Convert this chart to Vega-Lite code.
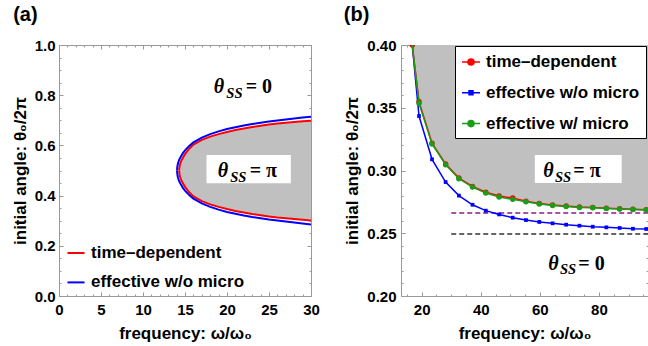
{
  "$schema": "https://vega.github.io/schema/vega-lite/v6.json",
  "background": "white",
  "padding": {"left": 10, "top": 4, "right": 0, "bottom": 0},
  "bounds": "flush",
  "spacing": 90,
  "resolve": {"scale": {"color": "independent"}, "legend": {"color": "independent"}},
  "config": {
    "view": {"stroke": "#999999", "strokeWidth": 1},
    "axis": {"labelFont": "Liberation Sans", "labelFontSize": 15, "labelFontWeight": "bold", "labelColor": "black", "titleFont": "Liberation Sans", "titleFontSize": 17, "titleFontWeight": "bold", "titleColor": "black", "grid": false, "domain": false, "tickColor": "#999999", "labelFlush": false, "labelOverlap": false},
    "legend": {"labelFont": "Liberation Sans", "labelFontSize": 17, "labelFontWeight": "bold", "labelColor": "black", "labelLimit": 400},
    "title": {"font": "Liberation Sans", "fontSize": 20, "fontWeight": "bold", "color": "black"}
  },
  "datasets": {
    "acurve": [
      {"x": 14.3, "yu": 0.5, "yl": 0.5, "s": "time–dependent"},
      {"x": 14.32, "yu": 0.509, "yl": 0.491, "s": "time–dependent"},
      {"x": 14.36, "yu": 0.518, "yl": 0.482, "s": "time–dependent"},
      {"x": 14.42, "yu": 0.526, "yl": 0.474, "s": "time–dependent"},
      {"x": 14.5, "yu": 0.534, "yl": 0.466, "s": "time–dependent"},
      {"x": 14.62, "yu": 0.543, "yl": 0.457, "s": "time–dependent"},
      {"x": 14.75, "yu": 0.551, "yl": 0.449, "s": "time–dependent"},
      {"x": 15.0, "yu": 0.565, "yl": 0.435, "s": "time–dependent"},
      {"x": 15.5, "yu": 0.587, "yl": 0.413, "s": "time–dependent"},
      {"x": 16, "yu": 0.603, "yl": 0.397, "s": "time–dependent"},
      {"x": 17, "yu": 0.622, "yl": 0.378, "s": "time–dependent"},
      {"x": 18, "yu": 0.635, "yl": 0.365, "s": "time–dependent"},
      {"x": 19, "yu": 0.645, "yl": 0.355, "s": "time–dependent"},
      {"x": 20, "yu": 0.653, "yl": 0.347, "s": "time–dependent"},
      {"x": 21, "yu": 0.661, "yl": 0.339, "s": "time–dependent"},
      {"x": 22, "yu": 0.667, "yl": 0.333, "s": "time–dependent"},
      {"x": 23, "yu": 0.673, "yl": 0.327, "s": "time–dependent"},
      {"x": 24, "yu": 0.678, "yl": 0.322, "s": "time–dependent"},
      {"x": 25, "yu": 0.683, "yl": 0.317, "s": "time–dependent"},
      {"x": 26, "yu": 0.687, "yl": 0.313, "s": "time–dependent"},
      {"x": 27, "yu": 0.690, "yl": 0.310, "s": "time–dependent"},
      {"x": 28, "yu": 0.693, "yl": 0.307, "s": "time–dependent"},
      {"x": 29, "yu": 0.696, "yl": 0.304, "s": "time–dependent"},
      {"x": 30, "yu": 0.698, "yl": 0.301, "s": "time–dependent"},
      {"x": 14.05, "yu": 0.5, "yl": 0.5, "s": "effective w/o micro"},
      {"x": 14.07, "yu": 0.51, "yl": 0.49, "s": "effective w/o micro"},
      {"x": 14.11, "yu": 0.52, "yl": 0.48, "s": "effective w/o micro"},
      {"x": 14.17, "yu": 0.529, "yl": 0.471, "s": "effective w/o micro"},
      {"x": 14.25, "yu": 0.537, "yl": 0.463, "s": "effective w/o micro"},
      {"x": 14.37, "yu": 0.547, "yl": 0.453, "s": "effective w/o micro"},
      {"x": 14.5, "yu": 0.555, "yl": 0.445, "s": "effective w/o micro"},
      {"x": 14.75, "yu": 0.569, "yl": 0.431, "s": "effective w/o micro"},
      {"x": 15.0, "yu": 0.58, "yl": 0.42, "s": "effective w/o micro"},
      {"x": 15.5, "yu": 0.598, "yl": 0.402, "s": "effective w/o micro"},
      {"x": 16, "yu": 0.612, "yl": 0.388, "s": "effective w/o micro"},
      {"x": 17, "yu": 0.631, "yl": 0.369, "s": "effective w/o micro"},
      {"x": 18, "yu": 0.645, "yl": 0.355, "s": "effective w/o micro"},
      {"x": 19, "yu": 0.656, "yl": 0.344, "s": "effective w/o micro"},
      {"x": 20, "yu": 0.665, "yl": 0.335, "s": "effective w/o micro"},
      {"x": 21, "yu": 0.672, "yl": 0.328, "s": "effective w/o micro"},
      {"x": 22, "yu": 0.679, "yl": 0.321, "s": "effective w/o micro"},
      {"x": 23, "yu": 0.685, "yl": 0.315, "s": "effective w/o micro"},
      {"x": 24, "yu": 0.690, "yl": 0.310, "s": "effective w/o micro"},
      {"x": 25, "yu": 0.695, "yl": 0.305, "s": "effective w/o micro"},
      {"x": 26, "yu": 0.699, "yl": 0.301, "s": "effective w/o micro"},
      {"x": 27, "yu": 0.703, "yl": 0.297, "s": "effective w/o micro"},
      {"x": 28, "yu": 0.707, "yl": 0.293, "s": "effective w/o micro"},
      {"x": 29, "yu": 0.711, "yl": 0.289, "s": "effective w/o micro"},
      {"x": 30, "yu": 0.714, "yl": 0.285, "s": "effective w/o micro"}
    ],
    "aarea": [
      {"x": 14.3, "lo": 0.5, "hi": 0.5},
      {"x": 14.32, "lo": 0.491, "hi": 0.509},
      {"x": 14.36, "lo": 0.482, "hi": 0.518},
      {"x": 14.42, "lo": 0.474, "hi": 0.526},
      {"x": 14.5, "lo": 0.466, "hi": 0.534},
      {"x": 14.62, "lo": 0.457, "hi": 0.543},
      {"x": 14.75, "lo": 0.449, "hi": 0.551},
      {"x": 15.0, "lo": 0.435, "hi": 0.565},
      {"x": 15.5, "lo": 0.413, "hi": 0.587},
      {"x": 16, "lo": 0.397, "hi": 0.603},
      {"x": 17, "lo": 0.378, "hi": 0.622},
      {"x": 18, "lo": 0.365, "hi": 0.635},
      {"x": 19, "lo": 0.355, "hi": 0.645},
      {"x": 20, "lo": 0.347, "hi": 0.653},
      {"x": 21, "lo": 0.339, "hi": 0.661},
      {"x": 22, "lo": 0.333, "hi": 0.667},
      {"x": 23, "lo": 0.327, "hi": 0.673},
      {"x": 24, "lo": 0.322, "hi": 0.678},
      {"x": 25, "lo": 0.317, "hi": 0.683},
      {"x": 26, "lo": 0.313, "hi": 0.687},
      {"x": 27, "lo": 0.310, "hi": 0.690},
      {"x": 28, "lo": 0.307, "hi": 0.693},
      {"x": 29, "lo": 0.304, "hi": 0.696},
      {"x": 30, "lo": 0.301, "hi": 0.698}
    ],
    "abox": [{"x1": 17.56, "x2": 27.6, "y1": 0.449, "y2": 0.5618}],
    "alab": [
      {"x": 18.42, "y": 0.8076, "r": "= 0"},
      {"x": 18.89, "y": 0.473, "r": "= π"}
    ],
    "bpts": [
      {"x": 16.8, "y": 0.400, "s": "effective w/o micro"},
      {"x": 19.1, "y": 0.3434, "s": "effective w/o micro"},
      {"x": 23.5, "y": 0.3089, "s": "effective w/o micro"},
      {"x": 28.1, "y": 0.2908, "s": "effective w/o micro"},
      {"x": 32.6, "y": 0.2800, "s": "effective w/o micro"},
      {"x": 37.2, "y": 0.2727, "s": "effective w/o micro"},
      {"x": 41.7, "y": 0.2680, "s": "effective w/o micro"},
      {"x": 46.2, "y": 0.2650, "s": "effective w/o micro"},
      {"x": 50.8, "y": 0.2624, "s": "effective w/o micro"},
      {"x": 55.3, "y": 0.2605, "s": "effective w/o micro"},
      {"x": 59.8, "y": 0.2590, "s": "effective w/o micro"},
      {"x": 64.3, "y": 0.2579, "s": "effective w/o micro"},
      {"x": 68.9, "y": 0.2568, "s": "effective w/o micro"},
      {"x": 73.4, "y": 0.2560, "s": "effective w/o micro"},
      {"x": 77.9, "y": 0.2552, "s": "effective w/o micro"},
      {"x": 82.5, "y": 0.2547, "s": "effective w/o micro"},
      {"x": 87.0, "y": 0.2542, "s": "effective w/o micro"},
      {"x": 91.5, "y": 0.2536, "s": "effective w/o micro"},
      {"x": 96.0, "y": 0.2534, "s": "effective w/o micro"},
      {"x": 16.8, "y": 0.400, "s": "time–dependent"},
      {"x": 19.1, "y": 0.3548, "s": "time–dependent"},
      {"x": 23.5, "y": 0.3218, "s": "time–dependent"},
      {"x": 28.1, "y": 0.3052, "s": "time–dependent"},
      {"x": 32.6, "y": 0.2940, "s": "time–dependent"},
      {"x": 37.2, "y": 0.2873, "s": "time–dependent"},
      {"x": 41.7, "y": 0.2827, "s": "time–dependent"},
      {"x": 46.2, "y": 0.2797, "s": "time–dependent"},
      {"x": 50.8, "y": 0.2780, "s": "time–dependent"},
      {"x": 55.3, "y": 0.2756, "s": "time–dependent"},
      {"x": 59.8, "y": 0.2737, "s": "time–dependent"},
      {"x": 64.3, "y": 0.2725, "s": "time–dependent"},
      {"x": 68.9, "y": 0.2717, "s": "time–dependent"},
      {"x": 73.4, "y": 0.2709, "s": "time–dependent"},
      {"x": 77.9, "y": 0.2705, "s": "time–dependent"},
      {"x": 82.5, "y": 0.2700, "s": "time–dependent"},
      {"x": 87.0, "y": 0.2695, "s": "time–dependent"},
      {"x": 91.5, "y": 0.2692, "s": "time–dependent"},
      {"x": 96.0, "y": 0.2687, "s": "time–dependent"},
      {"x": 16.8, "y": 0.400, "s": "effective w/ micro"},
      {"x": 19.1, "y": 0.3535, "s": "effective w/ micro"},
      {"x": 23.5, "y": 0.3211, "s": "effective w/ micro"},
      {"x": 28.1, "y": 0.3046, "s": "effective w/ micro"},
      {"x": 32.6, "y": 0.2934, "s": "effective w/ micro"},
      {"x": 37.2, "y": 0.2868, "s": "effective w/ micro"},
      {"x": 41.7, "y": 0.2820, "s": "effective w/ micro"},
      {"x": 46.2, "y": 0.2789, "s": "effective w/ micro"},
      {"x": 50.8, "y": 0.2770, "s": "effective w/ micro"},
      {"x": 55.3, "y": 0.2751, "s": "effective w/ micro"},
      {"x": 59.8, "y": 0.2733, "s": "effective w/ micro"},
      {"x": 64.3, "y": 0.2722, "s": "effective w/ micro"},
      {"x": 68.9, "y": 0.2714, "s": "effective w/ micro"},
      {"x": 73.4, "y": 0.2706, "s": "effective w/ micro"},
      {"x": 77.9, "y": 0.2703, "s": "effective w/ micro"},
      {"x": 82.5, "y": 0.2698, "s": "effective w/ micro"},
      {"x": 87.0, "y": 0.2693, "s": "effective w/ micro"},
      {"x": 91.5, "y": 0.2690, "s": "effective w/ micro"},
      {"x": 96.0, "y": 0.2685, "s": "effective w/ micro"}
    ],
    "barea": [
      {"x": 16.8, "lo": 0.400},
      {"x": 19.1, "lo": 0.3548},
      {"x": 23.5, "lo": 0.3218},
      {"x": 28.1, "lo": 0.3052},
      {"x": 32.6, "lo": 0.2940},
      {"x": 37.2, "lo": 0.2873},
      {"x": 41.7, "lo": 0.2827},
      {"x": 46.2, "lo": 0.2797},
      {"x": 50.8, "lo": 0.2780},
      {"x": 55.3, "lo": 0.2756},
      {"x": 59.8, "lo": 0.2737},
      {"x": 64.3, "lo": 0.2725},
      {"x": 68.9, "lo": 0.2717},
      {"x": 73.4, "lo": 0.2709},
      {"x": 77.9, "lo": 0.2705},
      {"x": 82.5, "lo": 0.2700},
      {"x": 87.0, "lo": 0.2695},
      {"x": 91.5, "lo": 0.2692},
      {"x": 96.0, "lo": 0.2687},
      {"x": 96.6, "lo": 0.2686}
    ],
    "bdash": [
      {"x": 30, "y": 0.2661, "s": "p"},
      {"x": 96.6, "y": 0.2661, "s": "p"},
      {"x": 30, "y": 0.2494, "s": "k"},
      {"x": 96.6, "y": 0.2494, "s": "k"}
    ],
    "bbox": [{"x1": 58.3, "x2": 87.7, "y1": 0.290, "y2": 0.3123}],
    "blab": [
      {"x": 62.85, "y": 0.2209, "r": "= 0"},
      {"x": 61.15, "y": 0.2946, "r": "= π"}
    ]
  },
  "hconcat": [
    {
      "width": 252,
      "height": 251,
      "title": {"text": "(a)", "anchor": "start", "frame": "bounds", "offset": 13, "dx": 2},
      "resolve": {"axis": {"x": "independent", "y": "independent"}},
      "layer": [
        {
          "data": {"name": "aarea"},
          "mark": {"type": "area", "color": "#c0c0c0"},
          "encoding": {
            "x": {"field": "x", "type": "quantitative", "scale": {"domain": [0, 30], "nice": false, "zero": false},
                  "axis": {"orient": "bottom", "values": [0, 5, 10, 15, 20, 25, 30], "ticks": false, "labelPadding": 6, "titlePadding": 8, "title": "frequency: ω/ω₀"}},
            "y": {"field": "lo", "type": "quantitative", "scale": {"domain": [0, 1], "nice": false, "zero": false},
                  "axis": {"orient": "left", "values": [0, 0.2, 0.4, 0.6, 0.8, 1], "format": ".1f", "ticks": false, "labelPadding": 4, "titlePadding": 5, "title": "initial angle: θ₀/2π"}},
            "y2": {"field": "hi"}
          }
        },
        {
          "data": {"name": "abox"},
          "mark": {"type": "rect", "color": "white"},
          "encoding": {
            "x": {"field": "x1", "type": "quantitative", "axis": null}, "x2": {"field": "x2"},
            "y": {"field": "y1", "type": "quantitative", "axis": null}, "y2": {"field": "y2"}
          }
        },
        {
          "data": {"name": "acurve"},
          "mark": {"type": "line", "strokeWidth": 2, "clip": true},
          "encoding": {
            "x": {"field": "x", "type": "quantitative", "axis": null},
            "y": {"field": "yu", "type": "quantitative", "axis": null},
            "color": {"field": "s", "type": "nominal",
                      "scale": {"domain": ["time–dependent", "effective w/o micro"], "range": ["#ff0000", "#0000ff"]},
                      "legend": {"orient": "none", "legendX": 7, "legendY": 198, "title": null, "symbolType": "stroke", "symbolSize": 290, "symbolStrokeWidth": 2, "rowPadding": 11.4, "labelOffset": 5, "padding": 0}}
          }
        },
        {
          "data": {"name": "acurve"},
          "mark": {"type": "line", "strokeWidth": 2, "clip": true},
          "encoding": {
            "x": {"field": "x", "type": "quantitative", "axis": null},
            "y": {"field": "yl", "type": "quantitative", "axis": null},
            "color": {"field": "s", "type": "nominal"}
          }
        },
        {
          "data": {"name": "alab"},
          "mark": {"type": "text", "text": "θ", "align": "left", "baseline": "alphabetic", "font": "Liberation Serif", "fontSize": 20, "fontWeight": "bold", "fontStyle": "italic"},
          "encoding": {"x": {"field": "x", "type": "quantitative", "axis": null}, "y": {"field": "y", "type": "quantitative", "axis": null}}
        },
        {
          "data": {"name": "alab"},
          "mark": {"type": "text", "text": "SS", "align": "left", "baseline": "alphabetic", "dx": 12.6, "dy": 4.5, "font": "Liberation Serif", "fontSize": 14.5, "fontWeight": "bold", "fontStyle": "italic"},
          "encoding": {"x": {"field": "x", "type": "quantitative", "axis": null}, "y": {"field": "y", "type": "quantitative", "axis": null}}
        },
        {
          "data": {"name": "alab"},
          "mark": {"type": "text", "align": "left", "baseline": "alphabetic", "dx": 32, "font": "Liberation Serif", "fontSize": 20, "fontWeight": "bold"},
          "encoding": {"x": {"field": "x", "type": "quantitative", "axis": null}, "y": {"field": "y", "type": "quantitative", "axis": null}, "text": {"field": "r"}}
        },
        {
          "data": {"name": "aarea"},
          "mark": {"type": "point", "opacity": 0},
          "encoding": {
            "x": {"field": "x", "type": "quantitative", "axis": {"orient": "bottom", "values": [0, 5, 10, 15, 20, 25, 30], "labels": false, "tickSize": -4, "title": null}},
            "y": {"field": "lo", "type": "quantitative", "axis": {"orient": "left", "values": [0, 0.2, 0.4, 0.6, 0.8, 1], "labels": false, "tickSize": -4, "title": null}}
          }
        },
        {
          "data": {"name": "aarea"},
          "mark": {"type": "point", "opacity": 0},
          "encoding": {
            "x": {"field": "x", "type": "quantitative", "axis": {"orient": "bottom", "values": [1, 2, 3, 4, 6, 7, 8, 9, 11, 12, 13, 14, 16, 17, 18, 19, 21, 22, 23, 24, 26, 27, 28, 29], "labels": false, "tickSize": -2, "title": null}},
            "y": {"field": "lo", "type": "quantitative", "axis": {"orient": "left", "values": [0.05, 0.1, 0.15, 0.25, 0.3, 0.35, 0.45, 0.5, 0.55, 0.65, 0.7, 0.75, 0.85, 0.9, 0.95], "labels": false, "tickSize": -2, "title": null}}
          }
        },
        {
          "data": {"name": "aarea"},
          "mark": {"type": "point", "opacity": 0},
          "encoding": {
            "x": {"field": "x", "type": "quantitative", "axis": {"orient": "top", "values": [0, 5, 10, 15, 20, 25, 30], "labels": false, "tickSize": -4, "title": null}},
            "y": {"field": "lo", "type": "quantitative", "axis": {"orient": "right", "values": [0, 0.2, 0.4, 0.6, 0.8, 1], "labels": false, "tickSize": -4, "title": null}}
          }
        },
        {
          "data": {"name": "aarea"},
          "mark": {"type": "point", "opacity": 0},
          "encoding": {
            "x": {"field": "x", "type": "quantitative", "axis": {"orient": "top", "values": [1, 2, 3, 4, 6, 7, 8, 9, 11, 12, 13, 14, 16, 17, 18, 19, 21, 22, 23, 24, 26, 27, 28, 29], "labels": false, "tickSize": -2, "title": null}},
            "y": {"field": "lo", "type": "quantitative", "axis": {"orient": "right", "values": [0.05, 0.1, 0.15, 0.25, 0.3, 0.35, 0.45, 0.5, 0.55, 0.65, 0.7, 0.75, 0.85, 0.9, 0.95], "labels": false, "tickSize": -2, "title": null}}
          }
        }
      ]
    },
    {
      "width": 247,
      "height": 251,
      "title": {"text": "(b)", "anchor": "start", "frame": "bounds", "offset": 13, "dx": 0},
      "resolve": {"axis": {"x": "independent", "y": "independent"}},
      "layer": [
        {
          "data": {"name": "barea"},
          "mark": {"type": "area", "color": "#c0c0c0", "clip": true},
          "encoding": {
            "x": {"field": "x", "type": "quantitative", "scale": {"domain": [13, 96.6], "nice": false, "zero": false},
                  "axis": {"orient": "bottom", "values": [20, 40, 60, 80], "ticks": false, "labelPadding": 6, "titlePadding": 8, "title": "frequency: ω/ω₀"}},
            "y": {"field": "lo", "type": "quantitative", "scale": {"domain": [0.2, 0.4], "nice": false, "zero": false},
                  "axis": {"orient": "left", "values": [0.2, 0.25, 0.3, 0.35, 0.4], "format": ".2f", "ticks": false, "labelPadding": 5, "titlePadding": 5, "title": "initial angle: θ₀/2π"}},
            "y2": {"datum": 0.4}
          }
        },
        {
          "data": {"name": "bbox"},
          "mark": {"type": "rect", "color": "white"},
          "encoding": {
            "x": {"field": "x1", "type": "quantitative", "axis": null}, "x2": {"field": "x2"},
            "y": {"field": "y1", "type": "quantitative", "axis": null}, "y2": {"field": "y2"}
          }
        },
        {
          "data": {"name": "bdash"},
          "transform": [{"filter": "datum.s == 'p'"}],
          "mark": {"type": "line", "color": "#8b1a8b", "strokeWidth": 1.5, "strokeDash": [5, 3], "clip": true},
          "encoding": {"x": {"field": "x", "type": "quantitative", "axis": null}, "y": {"field": "y", "type": "quantitative", "axis": null}}
        },
        {
          "data": {"name": "bdash"},
          "transform": [{"filter": "datum.s == 'k'"}],
          "mark": {"type": "line", "color": "#333333", "strokeWidth": 1.5, "strokeDash": [5, 3], "clip": true},
          "encoding": {"x": {"field": "x", "type": "quantitative", "axis": null}, "y": {"field": "y", "type": "quantitative", "axis": null}}
        },
        {
          "data": {"name": "bpts"},
          "transform": [{"filter": "datum.s == 'effective w/o micro'"}],
          "mark": {"type": "line", "strokeWidth": 1.5, "clip": true},
          "encoding": {
            "x": {"field": "x", "type": "quantitative", "axis": null},
            "y": {"field": "y", "type": "quantitative", "axis": null},
            "color": {"field": "s", "type": "nominal",
                      "scale": {"domain": ["time–dependent", "effective w/o micro", "effective w/ micro"], "range": ["#ff0000", "#0000ff", "#1a9e1a"]},
                      "legend": {"orient": "none", "legendX": 54, "legendY": 1, "title": null, "padding": 6, "strokeColor": "black", "fillColor": "white",
                                 "symbolType": "M-1,0L1,0M-0.34,0A0.34,0.34,0,1,0,0.34,0A0.34,0.34,0,1,0,-0.34,0Z", "symbolSize": 324, "symbolStrokeWidth": 1.5,
                                 "rowPadding": 12.8, "labelOffset": 5,
                                 "encode": {"symbols": {"update": {
                                   "stroke": {"signal": "datum.value === 'effective w/o micro' ? '#0000ff' : (datum.value === 'effective w/ micro' ? '#1a9e1a' : '#ff0000')"},
                                   "fill": {"signal": "datum.value === 'effective w/o micro' ? '#0000ff' : (datum.value === 'effective w/ micro' ? '#1a9e1a' : '#ff0000')"},
                                   "fillOpacity": {"value": 1},
                                   "strokeWidth": {"value": 1.5},
                                   "shape": {"signal": "datum.value === 'effective w/o micro' ? 'M-1,0L1,0M-0.22,-0.22L0.22,-0.22L0.22,0.22L-0.22,0.22Z' : 'M-1,0L1,0M-0.34,0A0.34,0.34,0,1,0,0.34,0A0.34,0.34,0,1,0,-0.34,0Z'"}
                                 }}}}}
          }
        },
        {
          "data": {"name": "bpts"},
          "transform": [{"filter": "datum.s == 'effective w/o micro'"}],
          "mark": {"type": "point", "shape": "square", "filled": true, "opacity": 1, "size": 14, "color": "#0000ff", "clip": true},
          "encoding": {"x": {"field": "x", "type": "quantitative", "axis": null}, "y": {"field": "y", "type": "quantitative", "axis": null}}
        },
        {
          "data": {"name": "bpts"},
          "transform": [{"filter": "datum.s == 'time–dependent'"}],
          "mark": {"type": "line", "strokeWidth": 1.5, "clip": true},
          "encoding": {
            "x": {"field": "x", "type": "quantitative", "axis": null},
            "y": {"field": "y", "type": "quantitative", "axis": null},
            "color": {"field": "s", "type": "nominal"}
          }
        },
        {
          "data": {"name": "bpts"},
          "transform": [{"filter": "datum.s == 'time–dependent'"}],
          "mark": {"type": "point", "shape": "circle", "filled": true, "opacity": 1, "size": 30, "color": "#ff0000", "clip": true},
          "encoding": {"x": {"field": "x", "type": "quantitative", "axis": null}, "y": {"field": "y", "type": "quantitative", "axis": null}}
        },
        {
          "data": {"name": "bpts"},
          "transform": [{"filter": "datum.s == 'effective w/ micro'"}],
          "mark": {"type": "line", "strokeWidth": 1.5, "clip": true},
          "encoding": {
            "x": {"field": "x", "type": "quantitative", "axis": null},
            "y": {"field": "y", "type": "quantitative", "axis": null},
            "color": {"field": "s", "type": "nominal"}
          }
        },
        {
          "data": {"name": "bpts"},
          "transform": [{"filter": "datum.s == 'effective w/ micro' && datum.x > 17"}],
          "mark": {"type": "point", "shape": "circle", "filled": true, "opacity": 1, "size": 30, "color": "#1a9e1a", "clip": true},
          "encoding": {"x": {"field": "x", "type": "quantitative", "axis": null}, "y": {"field": "y", "type": "quantitative", "axis": null}}
        },
        {
          "data": {"name": "blab"},
          "mark": {"type": "text", "text": "θ", "align": "left", "baseline": "alphabetic", "font": "Liberation Serif", "fontSize": 20, "fontWeight": "bold", "fontStyle": "italic"},
          "encoding": {"x": {"field": "x", "type": "quantitative", "axis": null}, "y": {"field": "y", "type": "quantitative", "axis": null}}
        },
        {
          "data": {"name": "blab"},
          "mark": {"type": "text", "text": "SS", "align": "left", "baseline": "alphabetic", "dx": 11.7, "dy": 4.5, "font": "Liberation Serif", "fontSize": 14.5, "fontWeight": "bold", "fontStyle": "italic"},
          "encoding": {"x": {"field": "x", "type": "quantitative", "axis": null}, "y": {"field": "y", "type": "quantitative", "axis": null}}
        },
        {
          "data": {"name": "blab"},
          "mark": {"type": "text", "align": "left", "baseline": "alphabetic", "dx": 30, "font": "Liberation Serif", "fontSize": 20, "fontWeight": "bold"},
          "encoding": {"x": {"field": "x", "type": "quantitative", "axis": null}, "y": {"field": "y", "type": "quantitative", "axis": null}, "text": {"field": "r"}}
        },
        {
          "data": {"name": "barea"},
          "mark": {"type": "point", "opacity": 0},
          "encoding": {
            "x": {"field": "x", "type": "quantitative", "axis": {"orient": "bottom", "values": [20, 40, 60, 80], "labels": false, "tickSize": -4, "title": null}},
            "y": {"field": "lo", "type": "quantitative", "axis": {"orient": "left", "values": [0.2, 0.25, 0.3, 0.35, 0.4], "labels": false, "tickSize": -4, "title": null}}
          }
        },
        {
          "data": {"name": "barea"},
          "mark": {"type": "point", "opacity": 0},
          "encoding": {
            "x": {"field": "x", "type": "quantitative", "axis": {"orient": "bottom", "values": [15, 25, 30, 35, 45, 50, 55, 65, 70, 75, 85, 90, 95], "labels": false, "tickSize": -2, "title": null}},
            "y": {"field": "lo", "type": "quantitative", "axis": {"orient": "left", "values": [0.21, 0.22, 0.23, 0.24, 0.26, 0.27, 0.28, 0.29, 0.31, 0.32, 0.33, 0.34, 0.36, 0.37, 0.38, 0.39], "labels": false, "tickSize": -2, "title": null}}
          }
        },
        {
          "data": {"name": "barea"},
          "mark": {"type": "point", "opacity": 0},
          "encoding": {
            "x": {"field": "x", "type": "quantitative", "axis": {"orient": "top", "values": [20, 40, 60, 80], "labels": false, "tickSize": -4, "title": null}},
            "y": {"field": "lo", "type": "quantitative", "axis": {"orient": "right", "values": [0.2, 0.25, 0.3, 0.35, 0.4], "labels": false, "tickSize": -4, "title": null}}
          }
        },
        {
          "data": {"name": "barea"},
          "mark": {"type": "point", "opacity": 0},
          "encoding": {
            "x": {"field": "x", "type": "quantitative", "axis": {"orient": "top", "values": [15, 25, 30, 35, 45, 50, 55, 65, 70, 75, 85, 90, 95], "labels": false, "tickSize": -2, "title": null}},
            "y": {"field": "lo", "type": "quantitative", "axis": {"orient": "right", "values": [0.21, 0.22, 0.23, 0.24, 0.26, 0.27, 0.28, 0.29, 0.31, 0.32, 0.33, 0.34, 0.36, 0.37, 0.38, 0.39], "labels": false, "tickSize": -2, "title": null}}
          }
        }
      ]
    }
  ]
}
